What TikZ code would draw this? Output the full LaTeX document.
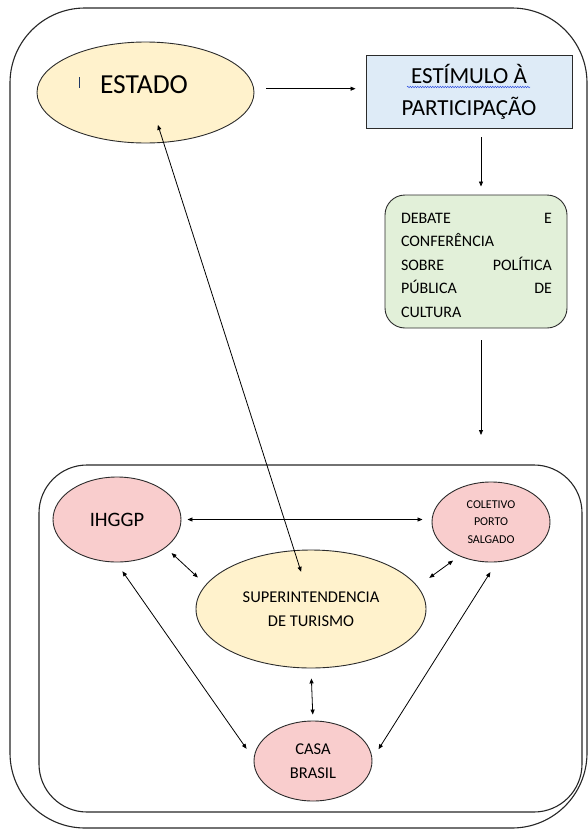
\documentclass[tikz,border=0pt]{standalone}
\usepackage{fontspec}
\setmainfont{Carlito}
\usetikzlibrary{arrows.meta,shapes.geometric,decorations.pathmorphing}
\definecolor{yel}{HTML}{FFF2CC}
\definecolor{pinkc}{HTML}{F9CDCD}
\definecolor{bluec}{HTML}{DEEBF7}
\definecolor{greenc}{HTML}{E2F0D9}
\definecolor{edgec}{HTML}{2B2B2B}
\definecolor{cursorc}{HTML}{1F3864}
\definecolor{squig}{HTML}{3050E0}
\tikzset{
  frame/.style={draw=black!85, line width=1.1pt},
  ell/.style={ellipse, draw=edgec, line width=0.9pt, inner sep=0pt, align=center},
  arr/.style={draw=black, line width=0.8pt, -{Triangle[length=5pt,width=4pt]}},
  darr/.style={draw=black, line width=0.8pt, {Triangle[length=5pt,width=4pt]}-{Triangle[length=5pt,width=4pt]}},
  txt/.style={inner sep=0pt, align=center}
}
\begin{document}
\begin{tikzpicture}[x=1pt,y=-1pt]
\useasboundingbox (0,0) rectangle (588,830);
% frames
\draw[frame, rounded corners=75pt] (10,8) rectangle (587,828);
\draw[frame, rounded corners=48pt] (39,465) rectangle (582,812);
% top nodes
\node[ell, fill=yel, minimum width=217pt, minimum height=101pt] (estado) at (145.5,92.5) {};
\node[txt, font=\fontsize{27.5}{32}\selectfont] (estadotxt) at (144,85) {ESTADO};
\draw[cursorc, line width=0.8pt] (79,77) -- (79,88);
\node[draw=edgec, line width=0.9pt, fill=bluec, minimum width=206pt, minimum height=73pt, inner sep=0pt, align=center, font=\fontsize{23}{32}\selectfont] (estimulo) at (469,91.5) {ESTÍMULO À\\PARTICIPAÇÃO};
\draw[squig, line width=0.5pt, decorate, decoration={snake, amplitude=0.7pt, segment length=2.5pt}] (407,87) -- (530,87);
\node[draw=edgec, line width=0.9pt, fill=greenc, rounded corners=20pt, minimum width=182pt, minimum height=133pt, inner sep=0pt] (debate) at (476,261.5) {};
\node[inner sep=0pt, text width=151pt, align=left, font=\fontsize{16}{23.5}\selectfont] (debatetxt) at (476.5,265) {DEBATE\hfill E\\CONFERÊNCIA\\SOBRE\hfill POLÍTICA\\PÚBLICA\hfill DE\\CULTURA};
% inner nodes
\node[ell, fill=pinkc, minimum width=128pt, minimum height=85pt, font=\fontsize{20.5}{24}\selectfont] (ihggp) at (117,519.5) {IHGGP};
\node[ell, fill=pinkc, minimum width=118pt, minimum height=80pt, font=\fontsize{12}{17.5}\selectfont] (coletivo) at (491,522) {COLETIVO\\PORTO\\SALGADO};
\node[ell, fill=yel, minimum width=230pt, minimum height=118pt, font=\fontsize{16.5}{24}\selectfont] (super) at (311,609) {SUPERINTENDENCIA\\DE TURISMO};
\node[ell, fill=pinkc, minimum width=118pt, minimum height=80pt, font=\fontsize{16.5}{24}\selectfont] (casa) at (313,761) {CASA\\BRASIL};
% connectors
\draw[arr, shorten <=12pt, shorten >=10pt] (estado.2.4) -- (estado.2.4 -| estimulo.west);
\draw[arr, shorten <=9pt, shorten >=8pt] ([xshift=12pt]estimulo.south) -- ([xshift=5pt]debate.north);
\coordinate (c1) at (481,435);
\draw[arr, shorten <=12pt] ([xshift=5pt]debate.south) -- (c1);
\draw[darr, shorten <=34pt, shorten >=39pt] ([xshift=2pt]estado.center) -- ([xshift=2pt]super.center);
\draw[darr, shorten <=6pt, shorten >=9pt] (ihggp.east) -- (ihggp.east -| coletivo.west);
\draw[darr, shorten <=8pt, shorten >=10.6pt] (ihggp.-30.3) -- (super.167.25);
\draw[darr, shorten <=7.5pt, shorten >=14.35pt] (coletivo.-133.8) -- (super.12.1);
\draw[darr, shorten <=10.7pt, shorten >=12.3pt] (ihggp.-91.8) -- (casa.178.15);
\draw[darr, shorten <=11.65pt, shorten >=11.45pt] (coletivo.-82.85) -- (casa.2.24);
\draw[darr, shorten <=10pt, shorten >=6pt] (super.south) -- (casa.north);
\end{tikzpicture}
\end{document}
